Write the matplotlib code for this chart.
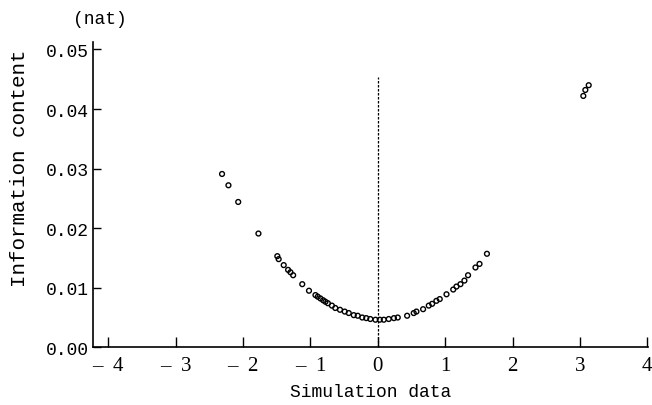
import numpy as np
import matplotlib.pyplot as plt

# simulation data (x) and information content in nat (y)
sim_x = [-2.31, -2.215, -2.07, -1.77, -1.49, -1.47, -1.395, -1.33, -1.295, -1.255,
         -1.12, -1.02, -0.924, -0.89, -0.85, -0.81, -0.776, -0.74, -0.68, -0.63,
         -0.56, -0.49, -0.43, -0.356, -0.297, -0.23, -0.17, -0.11, -0.034, 0.03,
         0.09, 0.163, 0.24, 0.297, 0.436, 0.534, 0.574, 0.673, 0.757, 0.807,
         0.87, 0.92, 1.02, 1.12, 1.168, 1.227, 1.286, 1.34, 1.45, 1.51, 1.62,
         3.05, 3.08, 3.13]
info = [0.0291, 0.0272, 0.0244, 0.0191, 0.0153, 0.0148, 0.0138, 0.0130, 0.0126, 0.0121,
        0.0106, 0.0095, 0.00877, 0.0085, 0.0082, 0.0079, 0.00765, 0.0074, 0.0070, 0.0066,
        0.0063, 0.0060, 0.00575, 0.0054, 0.0053, 0.0050, 0.0049, 0.00475, 0.00463, 0.00463,
        0.00463, 0.00475, 0.0049, 0.0050, 0.0053, 0.00575, 0.0060, 0.0064, 0.0070, 0.0073,
        0.0078, 0.0081, 0.0089, 0.0097, 0.0102, 0.0106, 0.0112, 0.0121, 0.0134, 0.0140, 0.0157,
        0.0422, 0.0432, 0.0440]

x_ticks = [-4, -3, -2, -1, 0, 1, 2, 3, 4]
x_ticklabels = ["\u2013  4", "\u2013  3", "\u2013  2", "\u2013  1", "0", "1", "2", "3", "4"]
y_ticks = [0.00, 0.01, 0.02, 0.03, 0.04, 0.05]
y_ticklabels = ["0.00", "0.01", "0.02", "0.03", "0.04", "0.05"]

mono = "Liberation Mono"
serif = "Liberation Serif"

fig = plt.figure(figsize=(6.52, 4.06), dpi=100)
ax = fig.add_axes([0.1431, 0.1421, 0.8508, 0.7512])

ax.plot([0, 0], [0, 0.0453], color="black", linestyle=(0, (2, 1.2)), linewidth=0.9)
ax.scatter(sim_x, info, s=12, facecolors="none", edgecolors="black", linewidths=1.0, zorder=3)

ax.set_xlim(-4.22, 4.01)
ax.set_ylim(0, 0.0512)
ax.spines["top"].set_visible(False)
ax.spines["right"].set_visible(False)
ax.spines["left"].set_linewidth(1.2)
ax.spines["bottom"].set_linewidth(1.2)

ax.set_xticks(x_ticks)
ax.set_xticklabels(x_ticklabels, fontfamily=serif, fontsize=15)
ax.set_yticks(y_ticks)
ax.set_yticklabels(y_ticklabels, fontfamily=mono, fontsize=13)
ax.tick_params(axis="x", direction="in", length=7, width=1, pad=6)
ax.tick_params(axis="y", direction="in", length=6, width=1, pad=3)

ax.set_xlabel("Simulation data", fontfamily=mono, fontsize=13, labelpad=6)
fig.text(20 / 652, 1 - 168 / 406, "Information content", rotation=90,
         ha="center", va="center", fontfamily=mono, fontsize=15)
fig.text(100 / 652, 1 - 20 / 406, "(nat)", ha="center", va="center",
         fontfamily=mono, fontsize=13)

fig.savefig("out.png", dpi=100)
